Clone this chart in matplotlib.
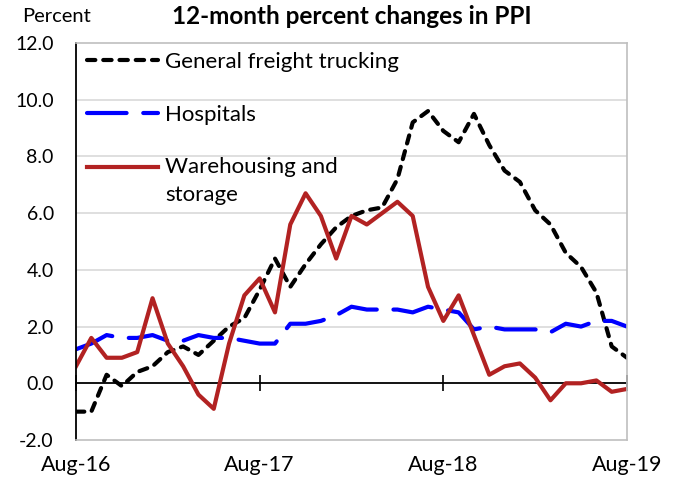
import numpy as np
import matplotlib
matplotlib.use("Agg")
import matplotlib.pyplot as plt
from matplotlib.legend_handler import HandlerLine2D

plt.rcParams['font.family'] = ['Lato', 'DejaVu Sans']

# monthly 12-month percent changes, Aug-16 .. Aug-19
freight = [-1.0, -1.0, 0.3, -0.1, 0.4, 0.6, 1.1, 1.3, 1.0, 1.5, 2.0, 2.3,
           3.3, 4.4, 3.4, 4.2, 4.9, 5.5, 5.9, 6.1, 6.2, 7.2, 9.2, 9.6,
           8.9, 8.5, 9.5, 8.4, 7.5, 7.1, 6.1, 5.6, 4.6, 4.1, 3.2, 1.3, 0.9]
hospitals = [1.2, 1.4, 1.7, 1.6, 1.6, 1.7, 1.5, 1.5, 1.7, 1.6, 1.6, 1.5,
             1.4, 1.4, 2.1, 2.1, 2.2, 2.4, 2.7, 2.6, 2.6, 2.6, 2.5, 2.7,
             2.6, 2.5, 1.9, 2.0, 1.9, 1.9, 1.9, 1.8, 2.1, 2.0, 2.2, 2.2, 2.0]
warehousing = [0.6, 1.6, 0.9, 0.9, 1.1, 3.0, 1.4, 0.6, -0.4, -0.9, 1.4, 3.1,
               3.7, 2.5, 5.6, 6.7, 5.9, 4.4, 5.9, 5.6, 6.0, 6.4, 5.9, 3.4,
               2.2, 3.1, 1.7, 0.3, 0.6, 0.7, 0.2, -0.6, 0.0, 0.0, 0.1, -0.3, -0.2]

tick_pos = [0, 12, 24, 36]
tick_labels = ['Aug-16', 'Aug-17', 'Aug-18', 'Aug-19']
y_ticks = [-2, 0, 2, 4, 6, 8, 10, 12]

x = np.arange(len(freight))
ymin, ymax = -2, 12
grey = '#BFBFBF'


class FirstLineHandler(HandlerLine2D):
    # puts the legend line level with the first line of a two-line label
    def __init__(self, shift, **kw):
        super().__init__(**kw)
        self.shift = shift

    def create_artists(self, *args, **kwargs):
        arts = super().create_artists(*args, **kwargs)
        for a in arts:
            a.set_ydata(np.asarray(a.get_ydata()) + self.shift)
        return arts


fig = plt.figure(figsize=(6.75, 4.8), dpi=100)
ax = fig.add_axes([76 / 675, 1 - 440 / 480, 551 / 675, 397 / 480])

for v in y_ticks[2:-1]:
    ax.axhline(v, color='#D9D9D9', lw=1.2, zorder=0)

l1, = ax.plot(x, freight, color='black', lw=3, linestyle=(0, (2.0, 1.9)),
              dash_capstyle='round', label='General freight trucking')
l2, = ax.plot(x, hospitals, color='#0000FF', lw=3, linestyle=(0, (9.5, 4.0)),
              dash_capstyle='round', label='Hospitals')
l3, = ax.plot(x, warehousing, color='#B22222', lw=3,
              label='Warehousing and\nstorage')

ax.set_xlim(0, 36)
ax.set_ylim(ymin, ymax)
ax.set_yticks(y_ticks)
ax.set_yticklabels([f'{v:.1f}' for v in y_ticks], fontsize=14)
ax.set_xticks(tick_pos)
ax.set_xticklabels(tick_labels, fontsize=15.5)
ax.tick_params(axis='y', length=0, pad=16)
ax.tick_params(axis='x', length=0, pad=11)

for s in ['top', 'right', 'bottom']:
    ax.spines[s].set_color(grey)
    ax.spines[s].set_linewidth(1.2)
ax.spines['left'].set_color('black')
ax.spines['left'].set_linewidth(1.3)

# zero line with its tick marks
zero = ax.secondary_xaxis((0 - ymin) / (ymax - ymin))
zero.set_xticks(tick_pos)
zero.tick_params(direction='inout', length=11, width=1.2, labelbottom=False)
zero.spines['bottom'].set_linewidth(1.3)
zero.spines['bottom'].set_color('black')

leg = ax.legend(handles=[l1, l2, l3], loc='upper left',
                bbox_to_anchor=(0.02, 0.977), frameon=False, fontsize=16,
                borderaxespad=0, borderpad=0, handlelength=3.2,
                handletextpad=0.32, labelspacing=1.47,
                handler_map={l3: FirstLineHandler(10)})
leg.texts[2].set_linespacing(1.45)

fig.text(22 / 675, 1 - 17 / 480, 'Percent', fontsize=14.5, va='center', ha='left')
fig.text(352 / 675, 1 - 17 / 480, '12-month percent changes in PPI',
         fontsize=17.5, fontweight='bold', va='center', ha='center')

fig.savefig('out.png', dpi=100)
